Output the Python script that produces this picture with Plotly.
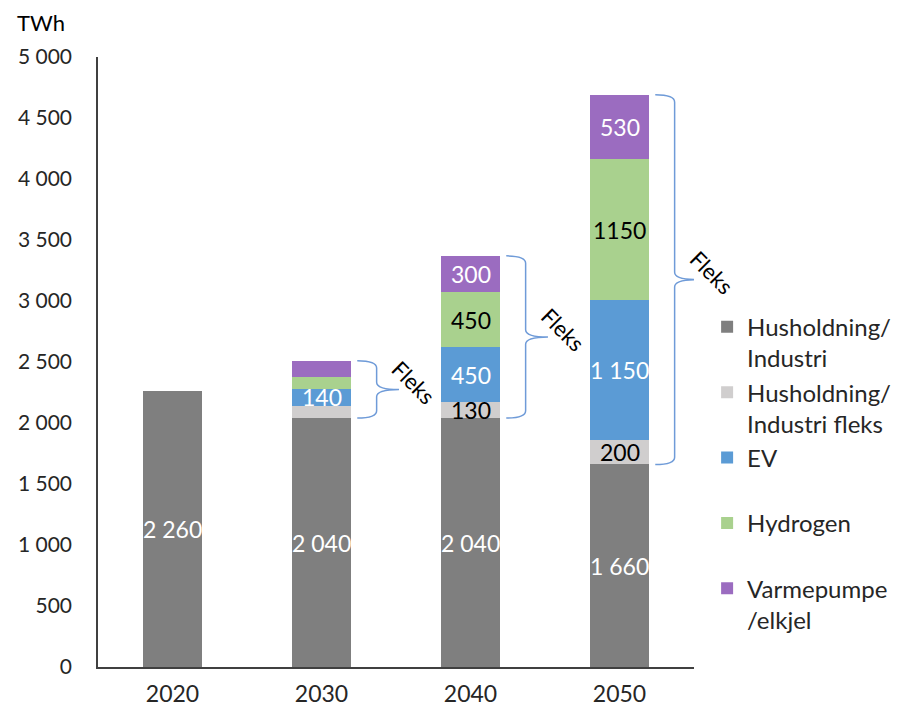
import plotly.graph_objects as go

# Electricity demand by category (TWh)
years = ["2020", "2030", "2040", "2050"]
husholdning = [2260, 2040, 2040, 1660]
husholdning_fleks = [0, 100, 130, 200]
ev = [0, 140, 450, 1150]
hydrogen = [0, 100, 450, 1150]
varmepumpe = [0, 130, 300, 530]

names = ["Husholdning/<br>Industri", "Husholdning/<br>Industri fleks", "EV<br> ",
         "Hydrogen<br> ", "Varmepumpe<br>/elkjel"]
series = [husholdning, husholdning_fleks, ev, hydrogen, varmepumpe]
colors = ["#7f7f7f", "#d0cece", "#5b9bd5", "#a9d18e", "#9b6cc0"]
label_colors = ["white", "black", "white", "black", "white"]
# which segments carry a value label, and whether thousands get a space
show_label = [
    [True, True, True, True],
    [False, False, True, True],
    [False, True, True, True],
    [False, False, True, True],
    [False, False, True, True],
]
space_sep = [True, True, True, False, True]

FONT = "Lato"
xs = list(range(len(years)))


def fmt(v, sep):
    s = f"{v:,}"
    return s.replace(",", " ") if sep else s.replace(",", "")


fig = go.Figure()
for name, vals, col in zip(names, series, colors):
    fig.add_trace(go.Bar(x=xs, y=vals, name=name, marker_color=col,
                         marker_line_width=0, width=0.4))

annotations = []
base = [0] * len(years)
for k, vals in enumerate(series):
    for i, v in enumerate(vals):
        if show_label[k][i] and v > 0:
            annotations.append(dict(
                x=xs[i], y=base[i] + v / 2, xref="x", yref="y",
                text=fmt(v, space_sep[k]), showarrow=False,
                font=dict(family=FONT, size=23, color=label_colors[k])))
        base[i] += v
totals = base


def brace_path(xc, y0, y1):
    xa, xb, xt = xc + 0.24, xc + 0.37, xc + 0.52
    ym = (y0 + y1) / 2
    ry = 60
    return (f"M {xa},{y0} Q {xb},{y0} {xb},{y0 + ry} "
            f"L {xb},{ym - ry} Q {xb},{ym} {xt},{ym} "
            f"Q {xb},{ym} {xb},{ym + ry} "
            f"L {xb},{y1 - ry} Q {xb},{y1} {xa},{y1}")


shapes = []
for i in xs:
    lo = husholdning[i]
    hi = totals[i]
    if hi - lo > 0:
        shapes.append(dict(type="path", path=brace_path(xs[i], lo, hi),
                           xref="x", yref="y",
                           line=dict(color="#6f9bd8", width=1.5)))
        annotations.append(dict(
            x=xs[i] + 0.5, y=(lo + hi) / 2 + 60, xref="x", yref="y",
            xshift=18, text="Fleks", showarrow=False, textangle=45,
            font=dict(family=FONT, size=22, color="black")))

annotations.append(dict(x=-0.139, y=1.057, xref="paper", yref="paper",
                        xanchor="left", yanchor="middle", text="TWh",
                        showarrow=False,
                        font=dict(family=FONT, size=22, color="black")))

fig.update_layout(
    width=900, height=718,
    margin=dict(l=98, r=206, t=57, b=51, autoexpand=False),
    paper_bgcolor="white", plot_bgcolor="white",
    barmode="stack", bargap=0.6,
    font=dict(family=FONT, size=20, color="black"),
    showlegend=True,
    legend=dict(x=1.022, y=0.594, xanchor="left", yanchor="top",
                traceorder="normal", valign="top",
                font=dict(family=FONT, size=24, color="#262626"),
                itemwidth=30),
    shapes=shapes,
    annotations=annotations,
    separators=". ",
)
fig.update_xaxes(range=[-0.5, 3.5], tickvals=xs, ticktext=years,
                 showline=True, linecolor="#404040", linewidth=1.5,
                 showgrid=False, zeroline=False,
                 ticks="outside", ticklen=6, tickcolor="rgba(0,0,0,0)",
                 tickfont=dict(family=FONT, size=23, color="#262626"))
fig.update_yaxes(range=[0, 5000], dtick=500, tickformat=",d",
                 showline=True, linecolor="#404040", linewidth=1.5,
                 showgrid=False, zeroline=False,
                 ticks="outside", ticklen=20, tickcolor="rgba(0,0,0,0)",
                 tickfont=dict(family=FONT, size=21, color="#262626"))

fig.write_html("out.html")
